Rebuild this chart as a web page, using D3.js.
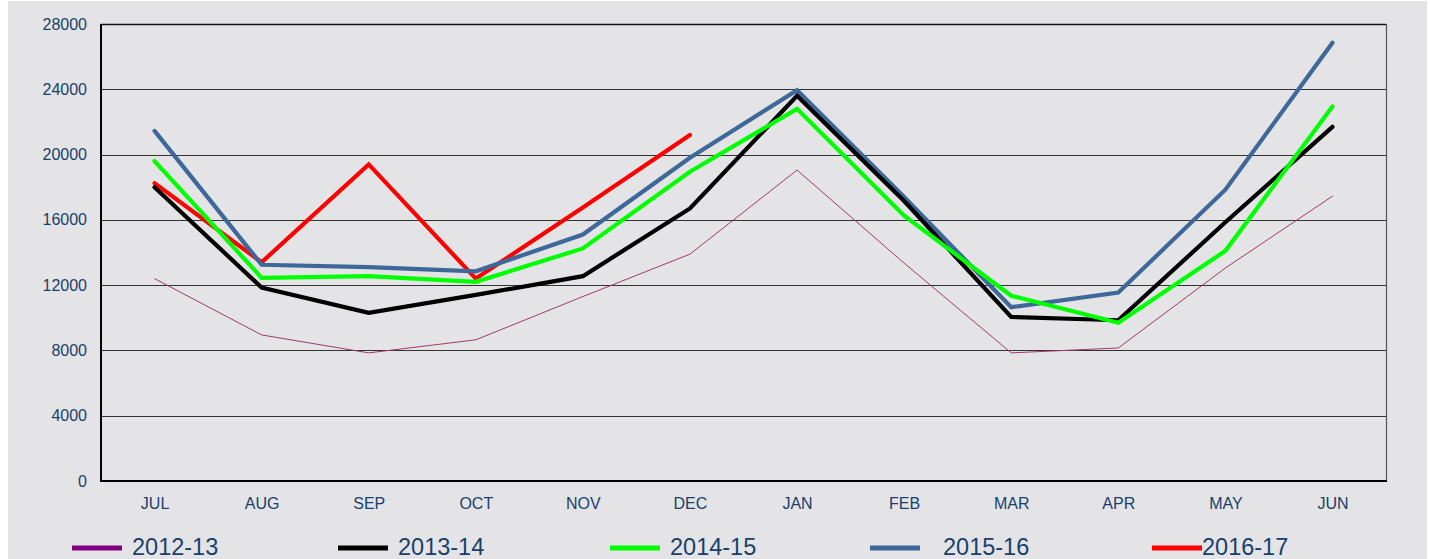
<!DOCTYPE html>
<html>
<head>
<meta charset="utf-8">
<script src="https://cdn.jsdelivr.net/npm/d3@7"></script>
<style>
body{margin:0;background:#fff;}
svg{display:block;}
</style>
</head>
<body>
<script>
// months of the financial year
var months = ["JUL","AUG","SEP","OCT","NOV","DEC","JAN","FEB","MAR","APR","MAY","JUN"];
var yTicks = [0,4000,8000,12000,16000,20000,24000,28000];

var v2012 = [12400,8950,7850,8650,11300,13900,19050,13350,7850,8150,13050,17450];
var v2013 = [18000,11850,10300,11400,12550,16700,23600,17150,10050,9850,15850,21700];
var v2014 = [19600,12450,12550,12200,14250,18950,22800,16250,11350,9700,14100,22950];
var v2015 = [21450,13250,13100,12850,15100,19800,23950,17400,10650,11550,17850,26850];
var v2016 = [18250,13400,19400,12400,16750,21200];

var seriesNames = ["2012-13","2013-14","2014-15","2015-16","2016-17"];
var lineColors  = ["#9b3a6a","#000000","#00ff00","#3d6899","#ff0000"];
var swatchColors = ["#800080","#000000","#00ff00","#3d6899","#ff0000"];

var W = 1430, H = 559;
var plotL = 101, plotR = 1386, plotT = 24, plotB = 481;
var textCol = "#17406d";

var svg = d3.select("body").append("svg")
  .attr("width", W)
  .attr("height", H);

svg.append("rect")
  .attr("x", 8).attr("y", 1)
  .attr("width", 1419).attr("height", H - 1)
  .attr("fill", "#e4e4e6");

var x = d3.scalePoint().domain(months).range([plotL, plotR]).padding(0.5);
var y = d3.scaleLinear().domain([0, 28000]).range([plotB, plotT]);

// grid lines
svg.append("g").selectAll("line")
  .data(yTicks.filter(function(t){ return t > 0 && t < 28000; }))
  .enter().append("line")
  .attr("x1", plotL).attr("x2", plotR)
  .attr("y1", function(d){ return Math.round(y(d)) + 0.5; })
  .attr("y2", function(d){ return Math.round(y(d)) + 0.5; })
  .attr("stroke", "#333")
  .attr("stroke-width", 1);

// frame
svg.append("line").attr("x1", plotL).attr("x2", plotR).attr("y1", plotT + 0.5).attr("y2", plotT + 0.5)
  .attr("stroke", "#111").attr("stroke-width", 1.3);
svg.append("line").attr("x1", plotR + 0.5).attr("x2", plotR + 0.5).attr("y1", plotT).attr("y2", plotB)
  .attr("stroke", "#555").attr("stroke-width", 1.2);

// y axis labels
var yAxis = d3.axisLeft(y).tickValues(yTicks).tickSize(0).tickPadding(14).tickFormat(d3.format("d"));
var ya = svg.append("g").attr("transform", "translate(" + plotL + ",0)").call(yAxis);
ya.select(".domain").remove();
ya.selectAll("text")
  .attr("fill", textCol)
  .style("font-family", "Liberation Sans, Arial, sans-serif")
  .style("font-size", "16px");

// x axis labels
var xAxis = d3.axisBottom(x).tickSize(0).tickPadding(17);
var xa = svg.append("g").attr("transform", "translate(0," + plotB + ")").call(xAxis);
xa.select(".domain").remove();
xa.selectAll("text")
  .attr("fill", textCol)
  .style("font-family", "Liberation Sans, Arial, sans-serif")
  .style("font-size", "16px");

// axis lines
svg.append("line").attr("x1", plotL).attr("x2", plotL).attr("y1", plotT).attr("y2", plotB + 1)
  .attr("stroke", "#000").attr("stroke-width", 2);
svg.append("line").attr("x1", plotL).attr("x2", plotR + 1).attr("y1", plotB).attr("y2", plotB)
  .attr("stroke", "#000").attr("stroke-width", 2);

var line = d3.line()
  .x(function(d, i){ return x(months[i]); })
  .y(function(d){ return y(d); });

var allData = [v2012, v2013, v2014, v2015, v2016];
var drawOrder = [0, 4, 3, 1, 2];
drawOrder.forEach(function(k){
  svg.append("path")
    .datum(allData[k])
    .attr("d", line)
    .attr("fill", "none")
    .attr("stroke", lineColors[k])
    .attr("stroke-width", k === 0 ? 1 : 4.2)
    .attr("stroke-linecap", "round")
    .attr("stroke-linejoin", "miter");
});

// legend
var swatchX = [72, 338, 610, 870, 1152];
var labelX  = [132, 398, 670, 943, 1202];
var lg = svg.append("g");
seriesNames.forEach(function(n, i){
  lg.append("line")
    .attr("x1", swatchX[i]).attr("x2", swatchX[i] + 50)
    .attr("y1", 548).attr("y2", 548)
    .attr("stroke", swatchColors[i])
    .attr("stroke-width", 5);
  lg.append("text")
    .attr("x", labelX[i]).attr("y", 555)
    .attr("fill", textCol)
    .style("font-family", "Liberation Sans, Arial, sans-serif")
    .style("font-size", "23.5px")
    .text(n);
});
</script>
</body>
</html>
